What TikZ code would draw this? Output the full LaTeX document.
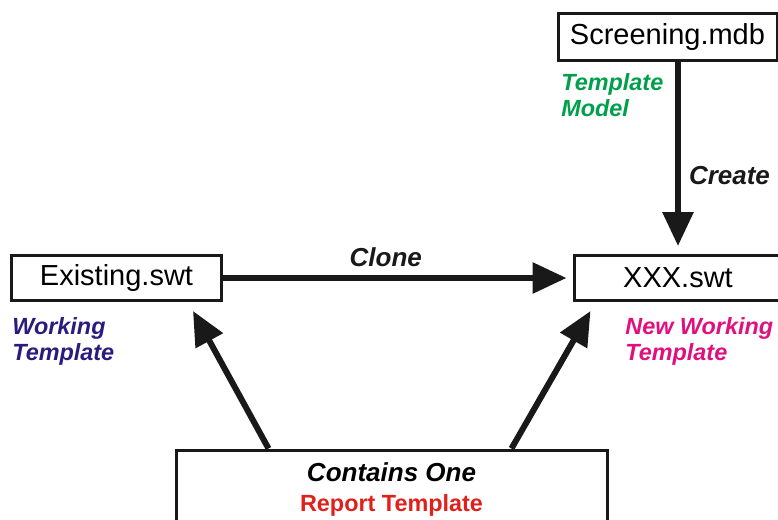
\documentclass[tikz,border=0pt]{standalone}
\usepackage{fontspec}
\setmainfont{Liberation Sans}
\usetikzlibrary{arrows.meta,positioning,calc}
\definecolor{tplgreen}{HTML}{00A04B}
\definecolor{worknavy}{HTML}{2B1B7F}
\definecolor{newmagenta}{HTML}{E0107F}
\definecolor{reportred}{HTML}{E0201B}

\begin{document}
\begin{tikzpicture}[
    x=0.5pt, y=-0.5pt,
    file/.style={rectangle, draw=black!90, line width=1.5pt, fill=white,
                 minimum height=22.5pt, inner sep=0pt,
                 font=\fontsize{14.5}{17}\selectfont},
    note/.style={align=left, anchor=west, inner sep=0pt,
                 font=\fontsize{11.7}{13}\selectfont\bfseries\itshape},
    act/.style={inner sep=0pt, font=\fontsize{13}{15}\selectfont\bfseries\itshape},
    myarrow/.style={-{Triangle[length=17pt,width=15pt]}, line width=3pt, black!90},
]
\clip (0,0) rectangle (778,520);

% Files
\node[file, minimum width=105pt] (exist) at (116.5,278) {Existing.swt};
\node[file, minimum width=104pt] (xxx) at (678,278) {XXX.swt};
\node[file, minimum width=109.5pt, minimum height=23.5pt] (screen) at (667.5,36.5) {Screening.mdb};
\node[file, minimum width=215.5pt, minimum height=40pt, align=center] (report) at (391.5,490)
  {\fontsize{13}{14}\selectfont\bfseries\itshape Contains One\\[-2pt]
   \fontsize{11.7}{14}\selectfont\bfseries\color{reportred}Report Template};

% Notes
\node[note, tplgreen] (tmodel) at (561,95) {Template\\Model};
\node[note, worknavy] (working) at (12,341) {Working\\Template};
\node[note, newmagenta] (newworking) at (625,341) {New Working\\Template};

% Arrows
\draw[myarrow, shorten >=3pt] (exist.east) -- (xxx.west)
  node[act, midway, above=4pt, xshift=-6pt] (clone) {Clone};
\draw[myarrow, shorten >=4pt] (screen.south -| xxx) -- (xxx.north)
  node[act, pos=0.59, right=4pt] (create) {Create};
\draw[myarrow] ($(report.north west)+(94,0)$) -- ($(exist.south east)+(-30,9)$);
\draw[myarrow] ($(report.north west)+(337,0)$) -- ($(xxx.south west)+(18,9)$);

\end{tikzpicture}
\end{document}
